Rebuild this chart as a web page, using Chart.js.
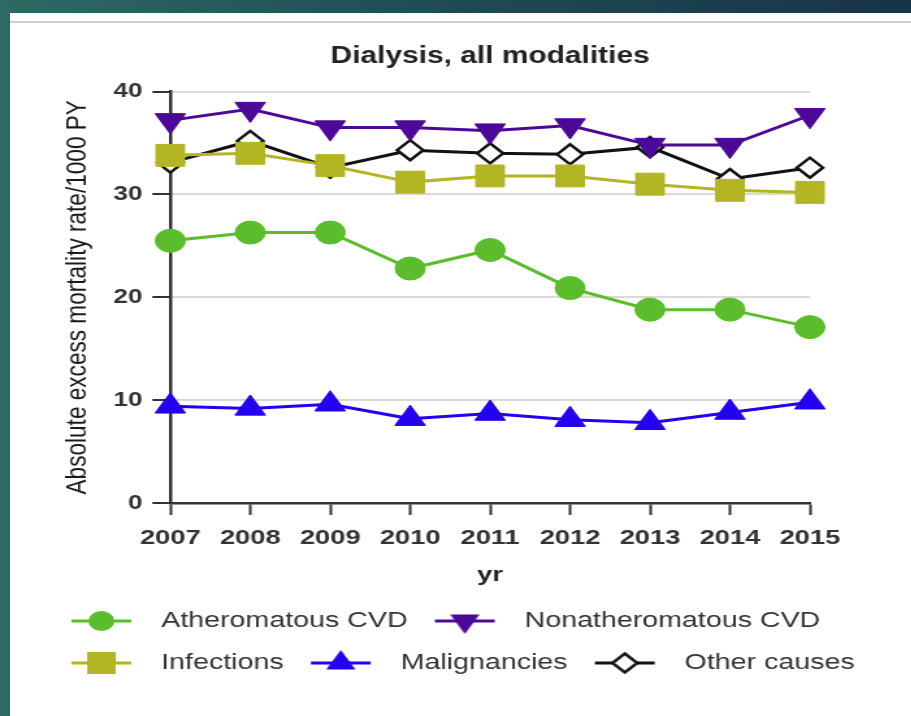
<!DOCTYPE html>
<html>
<head>
<meta charset="utf-8">
<script src="https://cdn.jsdelivr.net/npm/chart.js@4.4.1/dist/chart.umd.min.js"></script>
<style>
  html, body { margin: 0; padding: 0; width: 911px; height: 716px; overflow: hidden; }
  body { position: relative; background: linear-gradient(90deg, #2d6a63 0%, #1f4a55 50%, #183447 100%); }
  #panel { position: absolute; left: 10px; top: 13px; right: 0; bottom: 0; background: #fff; }
  #rule { position: absolute; left: 10px; right: 0; top: 21px; height: 2px; background: #d0d0d0; }
  /* the source picture is stretched sideways, so the chart is too */
  #wrap { position: absolute; left: 0; top: 0; width: 701px; height: 716px; transform: scaleX(1.3); transform-origin: 0 0; }
</style>
</head>
<body>
<div id="panel"></div>
<div id="rule"></div>
<div id="wrap"><canvas id="chart"></canvas></div>
<script>
// data
const years = ['2007', '2008', '2009', '2010', '2011', '2012', '2013', '2014', '2015'];
const atheromatous = [25.5, 26.3, 26.3, 22.8, 24.6, 20.9, 18.8, 18.8, 17.1];
const nonatheromatous = [37.2, 38.3, 36.5, 36.5, 36.2, 36.7, 34.8, 34.8, 37.7];
const infections = [33.8, 34.0, 32.8, 31.2, 31.8, 31.8, 31.0, 30.4, 30.2];
const malignancies = [9.4, 9.2, 9.6, 8.2, 8.7, 8.1, 7.8, 8.8, 9.8];
const otherCauses = [33.1, 35.2, 32.6, 34.3, 34.0, 33.9, 34.6, 31.5, 32.6];
const yTicks = [0, 10, 20, 30, 40];

const FONT = "'Liberation Sans', Arial, Helvetica, sans-serif";
const GREEN = '#5bbd2b', PURPLE = '#4c0896', OLIVE = '#b3b522', BLUE = '#2300ee', BLACK = '#111111';

// legend icon: short line with the marker in the middle
function makeIcon(color, shape, size, fill) {
    const c = document.createElement('canvas');
    c.width = 59;
    c.height = 32;
    const g = c.getContext('2d');
    const cx = 24, cy = 16;
    g.strokeStyle = color;
    g.lineWidth = 3;
    g.beginPath();
    g.moveTo(1, cy);
    g.lineTo(47, cy);
    g.stroke();
    g.fillStyle = fill || color;
    g.beginPath();
    if (shape === 'circle') {
        g.arc(cx, cy, size, 0, Math.PI * 2);
    } else if (shape === 'rect') {
        g.rect(cx - size, cy - size, size * 2, size * 2);
    } else if (shape === 'up') {
        g.moveTo(cx, cy - size);
        g.lineTo(cx + size * 0.866, cy + size / 2);
        g.lineTo(cx - size * 0.866, cy + size / 2);
        g.closePath();
    } else if (shape === 'down') {
        g.moveTo(cx, cy + size);
        g.lineTo(cx + size * 0.866, cy - size / 2);
        g.lineTo(cx - size * 0.866, cy - size / 2);
        g.closePath();
    } else {
        g.moveTo(cx, cy - size);
        g.lineTo(cx + size, cy);
        g.lineTo(cx, cy + size);
        g.lineTo(cx - size, cy);
        g.closePath();
    }
    g.fill();
    if (fill) {
        g.lineWidth = 2.5;
        g.stroke();
    }
    return c;
}

const icons = [
    makeIcon(GREEN, 'circle', 10),
    makeIcon(PURPLE, 'down', 13),
    makeIcon(OLIVE, 'rect', 11),
    makeIcon(BLUE, 'up', 13),
    makeIcon(BLACK, 'diamond', 9.5, '#ffffff')
];

function series(label, data, color, style, radius, extra) {
    return Object.assign({
        label: label,
        data: data,
        borderColor: color,
        backgroundColor: color,
        pointBackgroundColor: color,
        pointBorderColor: color,
        borderWidth: 3,
        pointStyle: style,
        pointRadius: radius,
        pointHoverRadius: radius,
        pointBorderWidth: 1,
        tension: 0,
        clip: false,
        order: 0
    }, extra || {});
}

const ctx = document.getElementById('chart').getContext('2d');
const chart = new Chart(ctx, {
    type: 'line',
    data: {
        labels: years,
        datasets: [
            series('Atheromatous CVD', atheromatous, GREEN, 'circle', 11.5),
            series('Nonatheromatous CVD', nonatheromatous, PURPLE, 'triangle', 13.5, { pointRotation: 180 }),
            series('Infections', infections, OLIVE, 'rect', 15.5),
            series('Malignancies', malignancies, BLUE, 'triangle', 13.5),
            series('Other causes', otherCauses, BLACK, 'rectRot', 10, {
                pointBackgroundColor: '#ffffff',
                pointBorderWidth: 2.5,
                order: 1
            })
        ]
    },
    options: {
        responsive: true,
        maintainAspectRatio: false,
        animation: false,
        layout: { padding: { left: 34, top: 0, right: 0, bottom: 32 } },
        plugins: {
            title: {
                display: true,
                text: 'Dialysis, all modalities',
                fullSize: false,
                color: '#222',
                font: { family: FONT, size: 23, weight: 'bold' },
                padding: { top: 43, bottom: 21 }
            },
            legend: {
                position: 'bottom',
                align: 'start',
                labels: {
                    usePointStyle: true,
                    pointStyleWidth: 59,
                    padding: 20,
                    color: '#333',
                    font: { family: FONT, size: 22 },
                    generateLabels: function (c) {
                        return c.data.datasets.map(function (ds, i) {
                            return {
                                text: ds.label,
                                pointStyle: icons[i],
                                rotation: 0,
                                fontColor: '#333',
                                fillStyle: 'transparent',
                                strokeStyle: 'transparent',
                                lineWidth: 0,
                                hidden: false,
                                datasetIndex: i
                            };
                        });
                    }
                }
            },
            tooltip: { enabled: false }
        },
        scales: {
            x: {
                grid: { drawOnChartArea: false, tickLength: 12, tickColor: '#333', tickWidth: 2 },
                border: { color: '#333', width: 2.5 },
                ticks: { color: '#333', font: { family: FONT, size: 21, weight: 'bold' }, padding: 11, maxRotation: 0 },
                title: {
                    display: true,
                    text: 'yr',
                    color: '#222',
                    font: { family: FONT, size: 21, weight: 'bold' },
                    padding: { top: 0, bottom: 2 }
                },
                afterFit: function (s) { s.height = 87; }
            },
            y: {
                min: 0,
                max: 40,
                afterBuildTicks: function (s) { s.ticks = yTicks.map(v => ({ value: v })); },
                ticks: { color: '#333', font: { family: FONT, size: 20, weight: 'bold' }, padding: 7.7 },
                grid: {
                    color: c => (c.tick && c.tick.value === 0) ? 'rgba(0,0,0,0)' : '#d9d9d9',
                    lineWidth: 2,
                    tickLength: 13.8,
                    tickColor: '#333',
                    tickWidth: 2
                },
                border: { color: '#333', width: 2.5 },
                title: {
                    display: true,
                    text: 'Absolute excess mortality rate/1000 PY',
                    color: '#1a1a1a',
                    font: { family: FONT, size: 22.6 },
                    padding: { top: 12.6, bottom: 0 }
                },
                afterFit: function (s) { s.width = 97; }
            },
            // empty right-hand axis, only keeps room to the right of the plot
            yPad: {
                type: 'linear',
                position: 'right',
                display: true,
                grid: { display: false },
                border: { display: false },
                ticks: { display: false },
                afterFit: function (s) { s.width = 78; }
            }
        }
    }
});
</script>
</body>
</html>
